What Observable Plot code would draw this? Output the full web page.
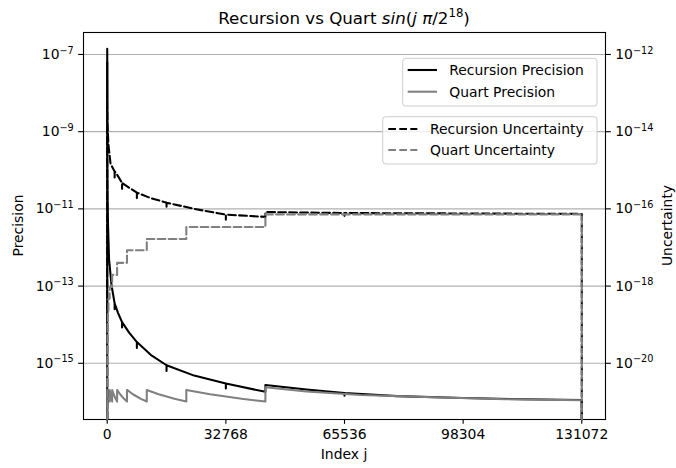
<!DOCTYPE html>
<html><head><meta charset="utf-8">
<script src="https://cdn.jsdelivr.net/npm/d3@7"></script>
<script src="https://cdn.jsdelivr.net/npm/@observablehq/plot@0.6"></script>
<style>
body{margin:0;background:#fff;}
#wrap{position:relative;width:676px;height:468px;font-family:"DejaVu Sans";}
#wrap svg{position:absolute;left:0;top:0;}
</style></head><body><div id="wrap"></div>
<script>
// ---- tick values ----
const xTicks = [0, 32768, 65536, 98304, 131072];
const precTicks = [1e-7, 1e-9, 1e-11, 1e-13, 1e-15];
const uncTicks = [1e-12, 1e-14, 1e-16, 1e-18, 1e-20];

// ---- Recursion Precision (left axis) ----
const recPrecJ = [0, 1, 30, 100, 220, 500, 1190, 2047, 2048, 2049, 3000, 4095, 4096, 4097, 6000, 8191, 8192, 8193, 12000, 16383, 16384, 16385, 24000, 32767, 32768, 32769, 43690, 43691, 55000, 65535, 65536, 65537, 80000, 98304, 115000, 131071, 131072];
const recPrecV = [0, 1.41e-7, 2.5e-10, 2.0e-11, 3.8e-12, 5.0e-13, 1.05e-13, 3.55e-14, 2.5e-14, 3.55e-14, 2.0e-14, 1.17e-14, 8.5e-15, 1.17e-14, 6.3e-15, 3.55e-15, 2.5e-15, 3.55e-15, 1.66e-15, 8.9e-16, 6.3e-16, 8.9e-16, 4.8e-16, 3.0e-16, 2.24e-16, 3.0e-16, 1.82e-16, 2.75e-16, 2.1e-16, 1.7e-16, 1.45e-16, 1.7e-16, 1.41e-16, 1.26e-16, 1.17e-16, 1.12e-16, 0];

// ---- Quart Precision (left axis) ----
const quartPrecJ = [0, 1, 171, 222, 290, 340, 341, 443, 580, 682, 683, 888, 1161, 1364, 1365, 1775, 2321, 2730, 2731, 3550, 4643, 5460, 5461, 7099, 9284, 10922, 10923, 14200, 18569, 21844, 21845, 28400, 37137, 43690, 43691, 55000, 70000, 90000, 110000, 131071, 131072];
const quartPrecV = [0, 1.3e-16,
  2.04e-16, 1.58e-16, 1.2e-16, 1.02e-16,
  2.04e-16, 1.58e-16, 1.2e-16, 1.02e-16,
  2.04e-16, 1.58e-16, 1.2e-16, 1.02e-16,
  2.04e-16, 1.58e-16, 1.2e-16, 1.02e-16,
  2.04e-16, 1.58e-16, 1.2e-16, 1.02e-16,
  2.04e-16, 1.58e-16, 1.2e-16, 1.02e-16,
  2.04e-16, 1.58e-16, 1.2e-16, 1.02e-16,
  2.04e-16, 1.58e-16, 1.2e-16, 1.02e-16,
  2.4e-16, 1.86e-16, 1.51e-16, 1.32e-16, 1.17e-16, 1.1e-16, 0];

// ---- Recursion Uncertainty (right axis) ----
const recUncJ = [0, 1, 30, 100, 300, 913, 2047, 2048, 2049, 2580, 4095, 4096, 4097, 6000, 8191, 8192, 8193, 12000, 16383, 16384, 16385, 24000, 32767, 32768, 32769, 43690, 43691, 65535, 65536, 65537, 98304, 131071, 131072];
const recUncV = [0, 6.3e-13, 5.0e-14, 1.58e-14, 4.9e-15, 1.48e-15, 9.3e-16, 6.5e-16, 9.3e-16, 8.1e-16, 4.7e-16, 3.3e-16, 4.7e-16, 3.55e-16, 2.63e-16, 1.9e-16, 2.63e-16, 1.9e-16, 1.45e-16, 1.05e-16, 1.45e-16, 1.0e-16, 7.1e-17, 5.25e-17, 7.1e-17, 6.2e-17, 8.3e-17, 7.8e-17, 6.6e-17, 7.8e-17, 7.6e-17, 7.4e-17, 0];

// ---- Quart Uncertainty (right axis) ----
const quartUncJ = [0, 1, 3, 5, 11, 21, 43, 85, 171, 341, 683, 1365, 2731, 5461, 10923, 21845, 43691, 131071, 131072];
const quartUncV = [0, 1.58e-21, 3.16e-21, 6.3e-21, 1.32e-20, 2.7e-20, 5.5e-20, 1.12e-19, 2.3e-19, 4.7e-19, 9.5e-19, 1.95e-18, 4.0e-18, 8.5e-18, 1.66e-17, 3.4e-17, 7.2e-17, 7.2e-17, 0];

// ---- axis limits ----
const xDomain = [-6553.6, 137625.6];
const precDomain = [Math.pow(10, -16.456), Math.pow(10, -6.431)];
const uncDomain = [Math.pow(10, -21.456), Math.pow(10, -11.431)];

const rows = (J, V) => J.map((j, i) => ({j, v: V[i]}));
const recPrec = rows(recPrecJ, recPrecV);
const quartPrec = rows(quartPrecJ, quartPrecV);
const recUnc = rows(recUncJ, recUncV);
const quartUnc = rows(quartUncJ, quartUncV);
const yv = d => d.v > 0 ? d.v : 1e-40;   // zero values fall off the bottom

const LW = 2.08, DASH = "7.7,3.3", TK = 4.86, FS = 13.9;
const sci = d => "10^" + Math.round(Math.log10(d));
const common = {
  width: 676, height: 468, marginLeft: 83, marginRight: 71, marginTop: 32, marginBottom: 49,
  style: {fontFamily: "DejaVu Sans", fontSize: FS + "px", background: "transparent", color: "black", overflow: "visible"}
};

const p1 = Plot.plot({
  ...common,
  x: {type: "linear", domain: xDomain, axis: null},
  y: {type: "log", domain: precDomain, clamp: true, axis: null},
  marks: [
    Plot.gridY(precTicks, {stroke: "#b0b0b0", strokeOpacity: 1, strokeWidth: 1.1}),
    Plot.line(recPrec, {x: "j", y: yv, stroke: "black", strokeWidth: LW}),
    Plot.line(quartPrec, {x: "j", y: yv, stroke: "gray", strokeWidth: LW}),
    Plot.axisX(xTicks, {tickSize: TK, tickPadding: TK, tickFormat: d => String(d), strokeWidth: 1.1, fontSize: FS, label: null}),
    Plot.axisY(precTicks, {anchor: "left", tickSize: TK, tickPadding: TK, tickFormat: sci, strokeWidth: 1.1, fontSize: FS, label: null}),
    Plot.frame({stroke: "black", strokeWidth: 1.1})
  ]
});

const p2 = Plot.plot({
  ...common,
  x: {type: "linear", domain: xDomain, axis: null},
  y: {type: "log", domain: uncDomain, clamp: true, axis: null},
  marks: [
    Plot.line(recUnc, {x: "j", y: yv, stroke: "black", strokeWidth: LW, strokeDasharray: DASH}),
    Plot.line(quartUnc, {x: "j", y: yv, stroke: "gray", strokeWidth: LW, strokeDasharray: DASH, curve: "step-after"}),
    Plot.axisY(uncTicks, {anchor: "right", tickSize: TK, tickPadding: TK, tickFormat: sci, strokeWidth: 1.1, fontSize: FS, label: null})
  ]
});

function supify(svg) {
  const ns = "http://www.w3.org/2000/svg";
  svg.querySelectorAll("text").forEach(t => {
    const m = t.textContent.match(/^10\^(-?\d+)$/);
    if (!m) return;
    t.textContent = "";
    const a = document.createElementNS(ns, "tspan"); a.textContent = "10";
    const b = document.createElementNS(ns, "tspan");
    b.textContent = m[1].replace("-", "\u2212");
    b.setAttribute("dy", "-0.55em");
    b.style.fontSize = "9.7px";
    t.append(a, b);
  });
}
supify(p1); supify(p2);

const wrap = document.getElementById("wrap");
wrap.append(p1);

const overlayHTML = (inner) => {
  const s = document.createElementNS("http://www.w3.org/2000/svg", "svg");
  s.setAttribute("width", 676); s.setAttribute("height", 468);
  s.setAttribute("font-family", "DejaVu Sans");
  s.innerHTML = inner;
  return s;
};

// legend of the precision axis
wrap.append(overlayHTML(`
  <rect x="402.7" y="58.3" width="194.3" height="47.7" rx="3" fill="white" fill-opacity="0.8" stroke="#cccccc" stroke-width="1"/>
  <line x1="407.7" x2="437" y1="70" y2="70" stroke="black" stroke-width="${LW}"/>
  <line x1="407.7" x2="437" y1="91.7" y2="91.7" stroke="gray" stroke-width="${LW}"/>
  <text x="449.3" y="75" font-size="${FS}">Recursion Precision</text>
  <text x="449.3" y="96.7" font-size="${FS}">Quart Precision</text>
`));

wrap.append(p2);

wrap.append(overlayHTML(`
  <rect x="382.7" y="116.7" width="214.3" height="47.3" rx="3" fill="white" fill-opacity="0.8" stroke="#cccccc" stroke-width="1"/>
  <line x1="388.3" x2="417.3" y1="129" y2="129" stroke="black" stroke-width="${LW}" stroke-dasharray="${DASH}"/>
  <line x1="388.3" x2="417.3" y1="150" y2="150" stroke="gray" stroke-width="${LW}" stroke-dasharray="${DASH}"/>
  <text x="430" y="134" font-size="${FS}">Recursion Uncertainty</text>
  <text x="430" y="155" font-size="${FS}">Quart Uncertainty</text>
  <text x="344" y="24" text-anchor="middle" font-size="16.7">Recursion vs Quart <tspan font-style="italic">sin</tspan>(<tspan font-style="italic">j</tspan> <tspan font-style="italic">π</tspan>/2<tspan dy="-7" font-size="11.7">18</tspan><tspan dy="7">)</tspan></text>
  <text x="344" y="459" text-anchor="middle" font-size="${FS}">Index j</text>
  <text transform="translate(22.5,225.5) rotate(-90)" text-anchor="middle" font-size="${FS}">Precision</text>
  <text transform="translate(672,225.5) rotate(-90)" text-anchor="middle" font-size="${FS}">Uncertainty</text>
`));
</script>
</body></html>
